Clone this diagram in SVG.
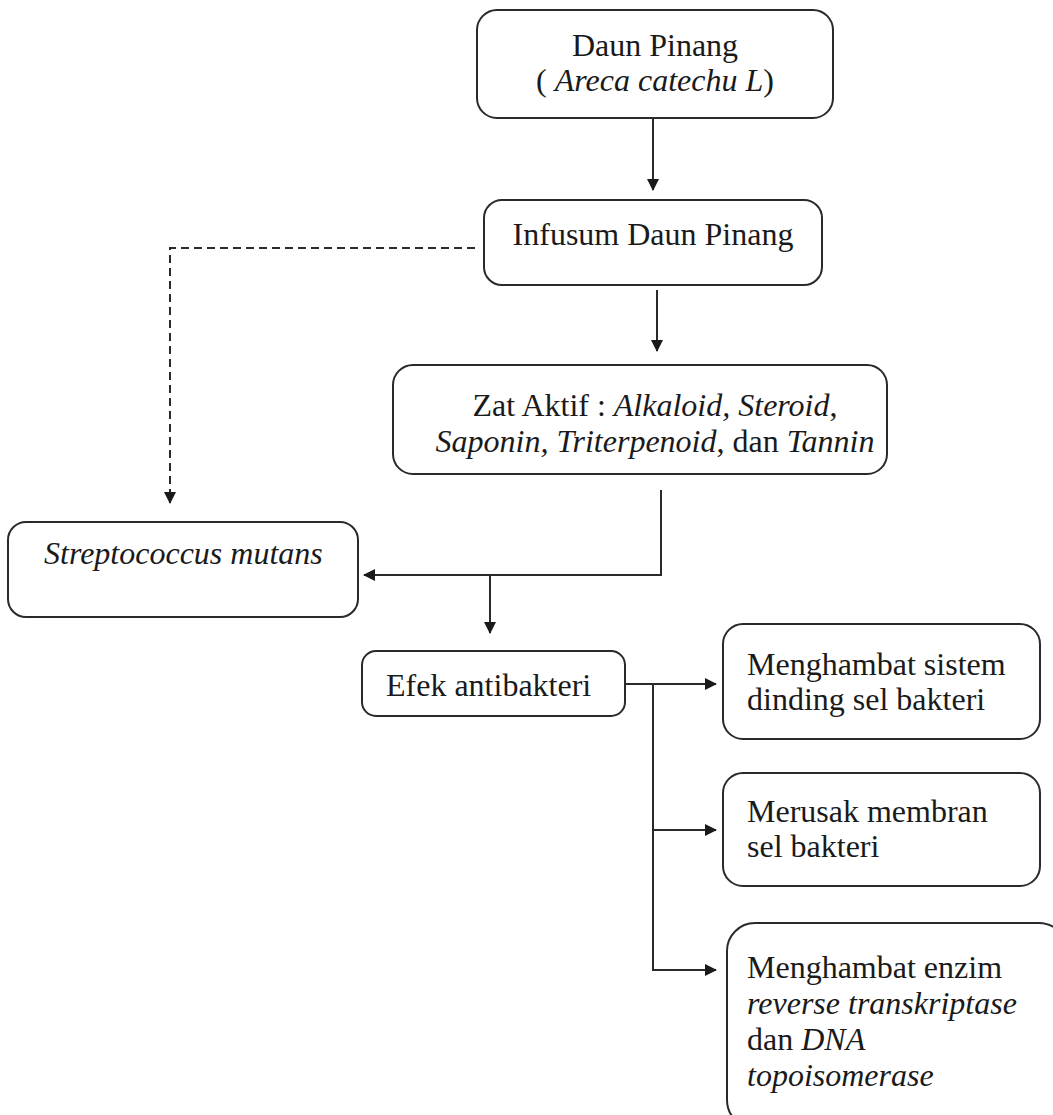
<svg xmlns="http://www.w3.org/2000/svg" width="1053" height="1115" viewBox="0 0 1053 1115">
<style>
.box{fill:#fff;stroke:#2a2a2a;stroke-width:2}
.t{font-family:"Liberation Serif","Times New Roman",serif;font-size:32px;fill:#1a1a1a}
.i{font-style:italic}
.c{fill:none;stroke:#2a2a2a;stroke-width:2}
.d{stroke-dasharray:8 5}
</style>
<defs>
<marker id="ah" markerWidth="12" markerHeight="12" refX="11" refY="6" orient="auto" markerUnits="userSpaceOnUse">
<path d="M0,0 L12,6 L0,12 Z" fill="#1a1a1a"/>
</marker>
</defs>
<rect width="1053" height="1115" fill="#fff"/>
<g id="connectors">
<path class="c" d="M653,118 V190" marker-end="url(#ah)"/>
<path class="c" d="M657,290 V351" marker-end="url(#ah)"/>
<path class="c d" d="M475,248 H170 V503" marker-end="url(#ah)"/>
<path class="c" d="M661,490 V575 H364" marker-end="url(#ah)"/>
<path class="c" d="M490,575 V633" marker-end="url(#ah)"/>
<path class="c" d="M625,684 H716" marker-end="url(#ah)"/>
<path class="c" d="M653,684 V970 H716" marker-end="url(#ah)"/>
<path class="c" d="M653,830 H716" marker-end="url(#ah)"/>
</g>
<g id="n1">
<rect class="box" x="477" y="10" width="356" height="108" rx="20"/>
<text class="t" x="655" y="56" text-anchor="middle">Daun Pinang</text>
<text class="t" x="655" y="91" text-anchor="middle">( <tspan class="i">Areca catechu L</tspan>)</text>
</g>
<g id="n2">
<rect class="box" x="484" y="200" width="338" height="85" rx="18"/>
<text class="t" x="653" y="245" text-anchor="middle">Infusum Daun Pinang</text>
</g>
<g id="n3">
<rect class="box" x="393" y="365" width="494" height="109" rx="20"/>
<text class="t" x="655" y="416" text-anchor="middle">Zat Aktif : <tspan class="i">Alkaloid,</tspan> <tspan class="i">Steroid</tspan>,</text>
<text class="t" x="655" y="452" text-anchor="middle"><tspan class="i">Saponin, Triterpenoid</tspan>, dan <tspan class="i">Tannin</tspan></text>
</g>
<g id="n4">
<rect class="box" x="8" y="522" width="350" height="95" rx="18"/>
<text class="t i" x="44" y="564">Streptococcus mutans</text>
</g>
<g id="n5">
<rect class="box" x="362" y="651" width="263" height="65" rx="14"/>
<text class="t" x="386" y="696">Efek antibakteri</text>
</g>
<g id="n6">
<rect class="box" x="723" y="624" width="317" height="115" rx="20"/>
<text class="t" x="747" y="675">Menghambat sistem</text>
<text class="t" x="747" y="710">dinding sel bakteri</text>
</g>
<g id="n7">
<rect class="box" x="723" y="773" width="317" height="113" rx="20"/>
<text class="t" x="747" y="822">Merusak membran</text>
<text class="t" x="747" y="857">sel bakteri</text>
</g>
<g id="n8">
<rect class="box" x="727" y="923" width="340" height="205" rx="28"/>
<text class="t" x="747" y="978">Menghambat enzim</text>
<text class="t i" x="747" y="1014">reverse transkriptase</text>
<text class="t" x="747" y="1050">dan <tspan class="i">DNA</tspan></text>
<text class="t i" x="747" y="1086">topoisomerase</text>
</g>
</svg>
